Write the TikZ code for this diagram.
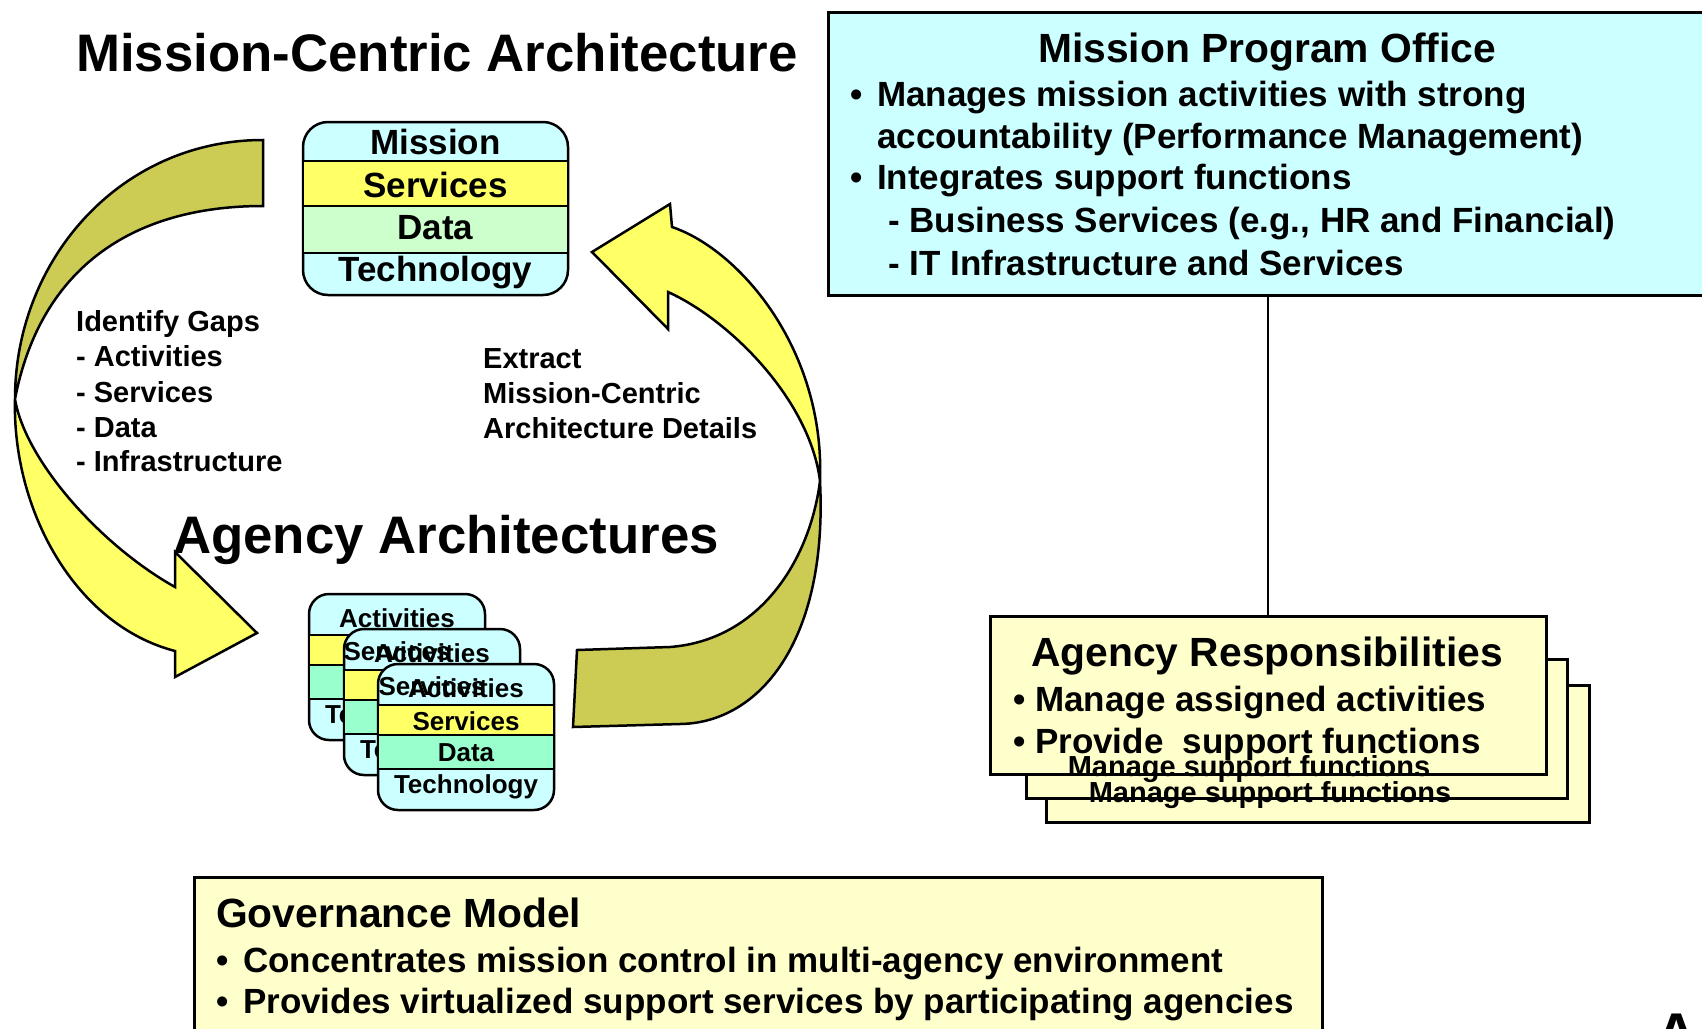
\documentclass[tikz,border=0pt]{standalone}
\usepackage{fontspec}
\setmainfont{Liberation Sans}
\definecolor{cyanbg}{HTML}{CCFFFF}
\definecolor{yelband}{HTML}{FFFF66}
\definecolor{grnband}{HTML}{CCFFCC}
\definecolor{mintband}{HTML}{99FFCC}
\definecolor{arrowyel}{HTML}{FFFF66}
\definecolor{arrowolv}{HTML}{CCCC55}
\definecolor{paleyel}{HTML}{FFFFCC}
\newcommand\bul{•\hspace{0.42em}}
\begin{document}
\begin{tikzpicture}[x=1pt,y=-1pt]
\tikzset{
  bx/.style={draw=black, line width=2.5pt},
  arr/.style={draw=black, line width=2.5pt, line join=miter},
  big/.style={font=\fontsize{52.8}{60}\selectfont\bfseries, inner sep=0pt, anchor=base},
  hd/.style={font=\fontsize{40.8}{48}\selectfont\bfseries, inner sep=0pt, anchor=base},
  bl/.style={font=\fontsize{35}{42}\selectfont\bfseries, inner sep=0pt, anchor=base west},
  mid/.style={font=\fontsize{35}{42}\selectfont\bfseries, inner sep=0pt, anchor=base},
  sm/.style={font=\fontsize{29}{35}\selectfont\bfseries, inner sep=0pt, anchor=base west},
  ag/.style={font=\fontsize{26}{31}\selectfont\bfseries, inner sep=0pt, anchor=base},
}
\useasboundingbox (0,0) rectangle (1702,1028);
\fill[white] (0,0) rectangle (1702,1028);

% titles
\node[big] (t1) at (437,71) {Mission-Centric Architecture};
\node[big] (t2) at (446,553) {Agency Architectures};

% left curved arrow
\draw[arr, fill=arrowolv] (263,140) .. controls (120,140) and (15,260) .. (15,399)
   .. controls (40,270) and (130,206) .. (263,206) -- cycle;
\draw[arr, fill=arrowyel] (15,399) .. controls (12,510) and (75,625) .. (175,651)
   -- (175,677) -- (257,633) -- (175,552) -- (175,587)
   .. controls (100,545) and (25,460) .. (15,399) -- cycle;

% right curved arrow
\draw[arr, fill=arrowyel] (672,227) .. controls (740,250) and (825,350) .. (820,481)
   .. controls (810,400) and (730,320) .. (668,292) -- (668,329) -- (592,252) -- (670,204) -- cycle;
\draw[arr, fill=arrowolv] (820,481) .. controls (828,640) and (760,723) .. (680,724)
   -- (573,727) -- (577,650) -- (670,647) .. controls (760,640) and (810,560) .. (820,481) -- cycle;

% mission box
\draw[bx, fill=cyanbg, rounded corners=25pt] (303,122) rectangle (568,295);
\draw[bx, fill=yelband] (303,161) rectangle (568,206);
\draw[bx, fill=grnband] (303,206) rectangle (568,253);
\node[mid] (mmis) at (435.5,154.5) {Mission};
\node[mid] (mser) at (435.5,197.5) {Services};
\node[mid] (mdat) at (435.5,239.5) {Data};
\node[mid] (mtec) at (435.5,281.5) {Technology};

% side labels
\node[sm] (g1) at (76,331) {Identify Gaps};
\node[sm] (g2) at (76,366) {- Activities};
\node[sm] (g3) at (76,402) {- Services};
\node[sm] (g4) at (76,437) {- Data};
\node[sm] (g5) at (76,471) {- Infrastructure};
\node[sm] (e1) at (483,368) {Extract};
\node[sm] (e2) at (483,403) {Mission-Centric};
\node[sm] (e3) at (483,438) {Architecture Details};

% agency architecture stack
\begin{scope}[shift={(309,594)}]
  \draw[bx, fill=cyanbg, rounded corners=20pt] (0,0) rectangle (176,146);
  \draw[bx, fill=yelband] (0,41) rectangle (176,71);
  \draw[bx, fill=mintband] (0,71) rectangle (176,105);
  \node[ag] (a1act) at (88,33) {Activities};
  \node[ag] (a1dat) at (88,97) {Data};
  \node[ag] (a1tec) at (88,129) {Technology};
\end{scope}
\begin{scope}[shift={(344,629)}]
  \draw[bx, fill=cyanbg, rounded corners=20pt] (0,0) rectangle (176,146);
  \draw[bx, fill=yelband] (0,41) rectangle (176,71);
  \draw[bx, fill=mintband] (0,71) rectangle (176,105);
  \node[ag] (a2act) at (88,33) {Activities};
  \node[ag] (a2dat) at (88,97) {Data};
  \node[ag] (a2tec) at (88,129) {Technology};
\end{scope}
\node[ag] (a1ser) at (397,660) {Services};
\begin{scope}[shift={(378,664)}]
  \draw[bx, fill=cyanbg, rounded corners=20pt] (0,0) rectangle (176,146);
  \draw[bx, fill=yelband] (0,41) rectangle (176,71);
  \draw[bx, fill=mintband] (0,71) rectangle (176,105);
  \node[ag] (a3act) at (88,33) {Activities};
  \node[ag] (a3ser) at (88,66) {Services};
  \node[ag] (a3dat) at (88,97) {Data};
  \node[ag] (a3tec) at (88,129) {Technology};
\end{scope}
\node[ag] (a2ser) at (432,695) {Services};

% mission program office
\node[bx, fill=cyanbg, anchor=north west, minimum width=890pt, minimum height=283pt, inner sep=0pt] (mpo) at (827,11) {};
\node[hd] (mpot) at (1267,62.6) {Mission Program Office};
\node[bl] (mp1) at (850,106.5) {\bul Manages mission activities with strong};
\node[bl] (mp2) at (877,148.5) {accountability (Performance Management)};
\node[bl] (mp3) at (850,189.5) {\bul Integrates support functions};
\node[bl] (mp4) at (888,232.5) {- Business Services (e.g., HR and Financial)};
\node[bl] (mp5) at (888,275.5) {- IT Infrastructure and Services};

% agency responsibilities stack
\node[bx, fill=paleyel, anchor=north west, minimum width=543pt, minimum height=137pt, inner sep=0pt] (ar3) at (1045,684) {};
\node[bx, fill=paleyel, anchor=north west, minimum width=541pt, minimum height=139pt, inner sep=0pt] (ar2) at (1025,658) {};
\node[bx, fill=paleyel, anchor=north west, minimum width=556pt, minimum height=158pt, inner sep=0pt] (ar) at (989,615) {};
\node[hd] (art) at (1267,666.6) {Agency Responsibilities};
\node[bl] (ar1t) at (1013,711.5) {• Manage assigned activities};
\node[bl] (ar2t) at (1013,753.5) {• Provide\ \ support functions};
\node[sm, anchor=base] (ar2b) at (1249,776.4) {Manage support functions};
\node[sm, anchor=base] (ar3b) at (1270,802.4) {Manage support functions};

\draw[line width=2pt] (ar.north) -- (ar.north |- mpo.south);

% governance model
\node[bx, fill=paleyel, anchor=north west, minimum width=1128pt, minimum height=170pt, inner sep=0pt] (gov) at (193,876) {};
\node[hd, anchor=base west] (govt) at (216,927.6) {Governance Model};
\node[bl] (gov1) at (216,972.5) {\bul Concentrates mission control in multi-agency environment};
\node[bl] (gov2) at (216,1013.5) {\bul Provides virtualized support services by participating agencies};

% cut-off letter at the corner
\node[font=\fontsize{56}{60}\selectfont\bfseries, inner sep=0pt, anchor=base] (corner) at (1677,1052) {A};
\end{tikzpicture}
\end{document}
